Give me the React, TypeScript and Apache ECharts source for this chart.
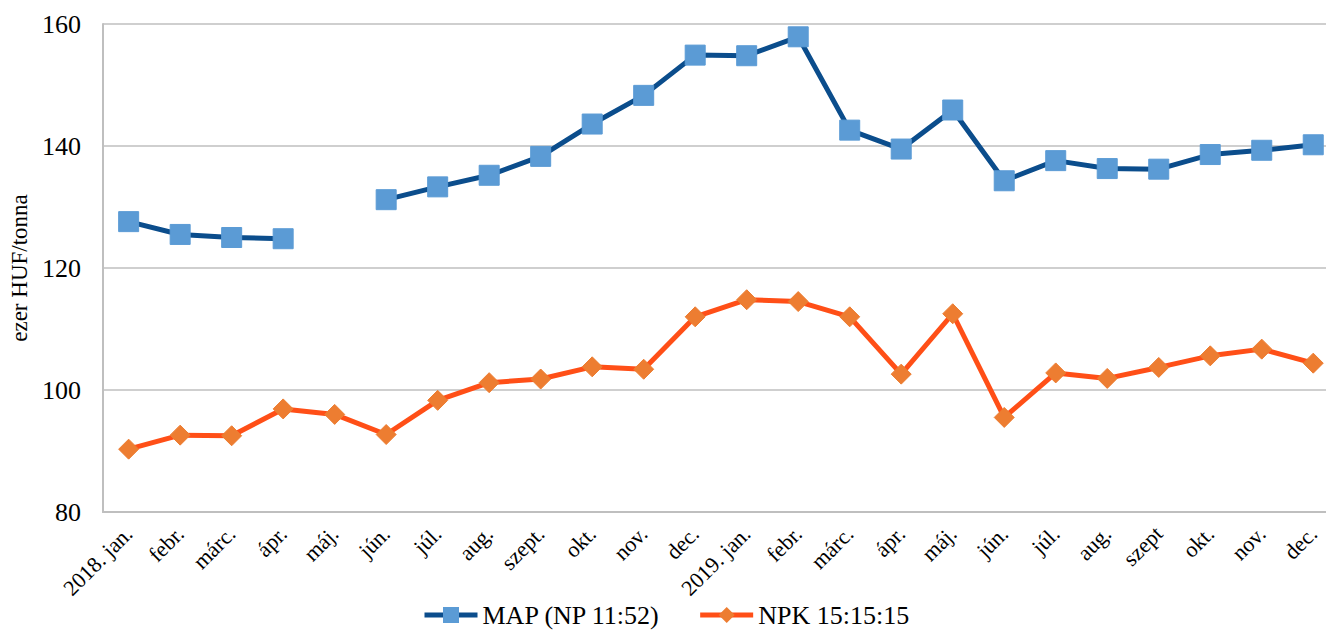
import React, { useEffect, useRef } from "react";
import * as echarts from "echarts";

const categories = [
  "2018. jan.", "febr.", "márc.", "ápr.", "máj.", "jún.", "júl.", "aug.", "szept.", "okt.", "nov.", "dec.",
  "2019. jan.", "febr.", "márc.", "ápr.", "máj.", "jún.", "júl.", "aug.", "szept", "okt.", "nov.", "dec.",
];

const mapValues: (number | null)[] = [
  127.6, 125.5, 125.0, 124.8, null, 131.2, 133.3, 135.2, 138.3, 143.6, 148.3, 154.9,
  154.8, 157.9, 142.6, 139.5, 145.9, 134.3, 137.6, 136.3, 136.2, 138.6, 139.3, 140.2,
];

const npkValues: number[] = [
  90.3, 92.6, 92.5, 96.9, 96.0, 92.7, 98.3, 101.2, 101.8, 103.8, 103.4, 112.0,
  114.8, 114.5, 112.0, 102.6, 112.5, 95.5, 102.8, 101.9, 103.7, 105.6, 106.7, 104.4,
];

const seriesNames = ["MAP (NP 11:52)", "NPK 15:15:15"];
const yAxisName = "ezer HUF/tonna";

const FONT = "'Liberation Serif', 'Times New Roman', serif";

export default function App() {
  const ref = useRef<HTMLDivElement>(null);
  useEffect(() => {
    if (!ref.current) return;
    const chart = echarts.init(ref.current, null, { renderer: "svg" });
    chart.setOption({
      animation: false,
      backgroundColor: "#ffffff",
      textStyle: { fontFamily: FONT, color: "#000" },
      grid: { left: 101, top: 24, width: 1238, height: 488 },
      legend: {
        bottom: 0,
        left: 417,
        itemWidth: 53,
        itemHeight: 20,
        itemGap: 37,
        lineStyle: { width: 5 },
        textStyle: { fontFamily: FONT, fontSize: 26, color: "#000" },
        data: seriesNames,
      },
      xAxis: {
        type: "category",
        data: categories,
        boundaryGap: true,
        axisLine: { lineStyle: { color: "#BFBFBF", width: 2 } },
        axisTick: { show: false },
        axisLabel: {
          rotate: 45,
          interval: 0,
          margin: 18,
          fontFamily: FONT,
          fontSize: 22,
          color: "#000",
        },
      },
      yAxis: {
        type: "value",
        min: 80,
        max: 160,
        interval: 20,
        name: yAxisName,
        nameLocation: "middle",
        nameGap: 70,
        nameTextStyle: { fontFamily: FONT, fontSize: 23, color: "#000" },
        axisLine: { show: true, lineStyle: { color: "#BFBFBF", width: 2 } },
        axisTick: { show: false },
        splitLine: { lineStyle: { color: "#BFBFBF", width: 1.5 } },
        axisLabel: { margin: 22, fontFamily: FONT, fontSize: 26, color: "#000" },
      },
      series: [
        {
          name: seriesNames[0],
          type: "line",
          data: mapValues,
          connectNulls: false,
          symbol: "rect",
          symbolSize: 20,
          lineStyle: { color: "#0B4D8C", width: 5 },
          itemStyle: { color: "#5B9BD5", borderColor: "#5B9BD5" },
        },
        {
          name: seriesNames[1],
          type: "line",
          data: npkValues,
          symbol: "diamond",
          symbolSize: 20,
          lineStyle: { color: "#FF4F17", width: 5 },
          itemStyle: { color: "#ED7D31", borderColor: "#ED7D31" },
        },
      ],
    });
    return () => chart.dispose();
  }, []);
  return (
    <div style={{ position: "fixed", left: 0, top: 0, width: 1326, height: 633, overflow: "hidden" }}>
      <div ref={ref} style={{ width: 1352, height: 633 }} />
    </div>
  );
}
